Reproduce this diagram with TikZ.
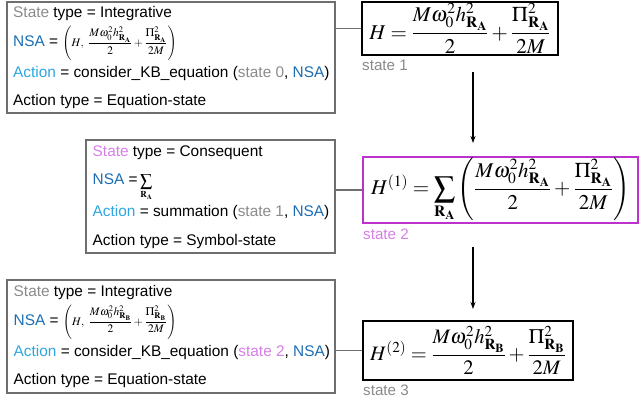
\documentclass[tikz,border=0pt]{standalone}
\usepackage{mathptmx}
\usepackage[no-math]{fontspec}
\setmainfont{Liberation Sans}
\usetikzlibrary{arrows.meta}
\definecolor{stgray}{HTML}{8A8A8A}
\definecolor{nsablue}{HTML}{1B6DB3}
\definecolor{actblue}{HTML}{2FA6DF}
\definecolor{pinkst}{HTML}{D67FE6}
\definecolor{purpbox}{HTML}{BB33CC}
\definecolor{boxgray}{HTML}{6E6E6E}
\newcommand{\myRA}{\mathbf{R}_{\mathbf{A}}}
\newcommand{\myRB}{\mathbf{R}_{\mathbf{B}}}
\tikzset{
  infobox/.style={draw=boxgray, line width=1.4pt, rectangle, inner sep=0pt},
  eqbox/.style={draw=black, line width=1.8pt, rectangle, inner sep=0pt, font=\fontsize{21}{24}\selectfont},
  txt/.style={anchor=base west, inner sep=0pt, font=\fontsize{15.4}{18}\selectfont},
  lbl/.style={anchor=base west, inner sep=0pt, font=\fontsize{15.2}{18}\selectfont},
  link/.style={draw=boxgray, line width=1.2pt},
  arr/.style={draw=black, line width=1.3pt, -{Stealth[length=7pt,width=5pt]}}
}
\begin{document}
\begin{tikzpicture}[x=1pt,y=-1pt]
\useasboundingbox (0,0) rectangle (640,417);
% left info boxes
\node[infobox, minimum width=328pt, minimum height=111pt] (b1) at (171,57.5) {};
\node[infobox, minimum width=249pt, minimum height=113pt] (b2) at (210.5,196.5) {};
\node[infobox, minimum width=328pt, minimum height=113pt] (b3) at (171,336.5) {};
% box 1 text
\node[txt] (t11) at (13,17.5) {\textcolor{stgray}{State} type = Integrative};
\node[txt] (t12) at (13,46.5) {\textcolor{nsablue}{NSA} = {\fontsize{11.5}{13}\selectfont$\displaystyle\left(H,\ \frac{M\omega_0^2h^2_{\myRA}}{2}+\frac{\Pi^2_{\myRA}}{2M}\right)$}};
\node[txt] (t13) at (13,77.3) {\textcolor{actblue}{Action} = consider\_KB\_equation (\textcolor{stgray}{state 0}, \textcolor{nsablue}{NSA})};
\node[txt] (t14) at (13,106) {Action type = Equation-state};
% box 2 text
\node[txt] (t21) at (92.5,156.7) {\textcolor{pinkst}{State} type = Consequent};
\node[txt] (t22) at (92.5,185) {\textcolor{nsablue}{NSA} =\,{\fontsize{12}{13}\selectfont$\displaystyle\sum_{\myRA}$}};
\node[txt] (t23) at (92.5,216.7) {\textcolor{actblue}{Action} = summation (\textcolor{stgray}{state 1}, \textcolor{nsablue}{NSA})};
\node[txt] (t24) at (92.5,245) {Action type = Symbol-state};
% box 3 text
\node[txt] (t31) at (13.5,296.7) {\textcolor{stgray}{State} type = Integrative};
\node[txt] (t32) at (13.5,325) {\textcolor{nsablue}{NSA} = {\fontsize{11.5}{13}\selectfont$\displaystyle\left(H,\ \frac{M\omega_0^2h^2_{\myRB}}{2}+\frac{\Pi^2_{\myRB}}{2M}\right)$}};
\node[txt] (t33) at (13.5,356) {\textcolor{actblue}{Action} = consider\_KB\_equation (\textcolor{pinkst}{state 2}, \textcolor{nsablue}{NSA})};
\node[txt] (t34) at (13.5,384) {Action type = Equation-state};
% state equation boxes
\node[eqbox, minimum width=196pt, minimum height=53pt] (s1) at (460,28.5)
  {$\displaystyle H=\frac{M\omega_0^2h^2_{\myRA}}{2}+\frac{\Pi^2_{\myRA}}{2M}$};
\node[eqbox, draw=purpbox, minimum width=275pt, minimum height=66pt] (s2) at (500.5,190)
  {$\displaystyle H^{(1)}=\sum_{\myRA}\left(\frac{M\omega_0^2h^2_{\myRA}}{2}+\frac{\Pi^2_{\myRA}}{2M}\right)$};
\node[eqbox, font=\fontsize{20.5}{24}\selectfont, minimum width=210pt, minimum height=59pt] (s3) at (468,350.5)
  {$\displaystyle H^{(2)}=\frac{M\omega_0^2h^2_{\myRB}}{2}+\frac{\Pi^2_{\myRB}}{2M}$};
% labels
\node[lbl, text=stgray] (l1) at (362,70.7) {state 1};
\node[lbl, text=pinkst] (l2) at (363,239) {state 2};
\node[lbl, text=stgray] (l3) at (363,395) {state 3};
% connectors
\draw[link] (b1.east |- s1.west) -- (s1.west);
\draw[link] (b2.east |- s2.west) -- (s2.west);
\draw[link] (b3.east |- s3.west) -- (s3.west);
\coordinate (a1s) at (473,72);
\coordinate (a1e) at (473,143);
\coordinate (a2s) at (473,247);
\coordinate (a2e) at (473,309);
\draw[arr] (a1s) -- (a1e);
\draw[arr] (a2s) -- (a2e);
\end{tikzpicture}
\end{document}
